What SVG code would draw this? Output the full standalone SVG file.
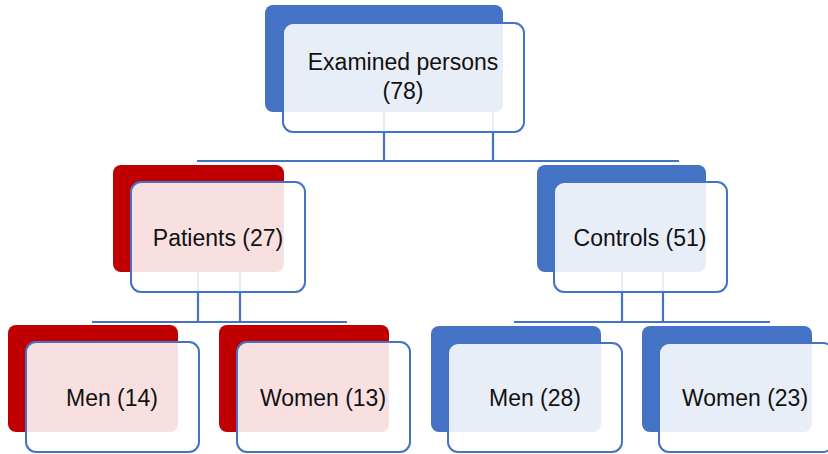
<svg xmlns="http://www.w3.org/2000/svg" width="828" height="454" viewBox="0 0 828 454">
<style>
.conn{stroke:#4472C4;stroke-width:2.2;fill:none}
.bb{fill:#4472C4}
.br{fill:#C00000}
.fr{fill:#ffffff;fill-opacity:0.88;stroke:#4472C4;stroke-width:2}
.t{font-family:"Liberation Sans",Arial,sans-serif;font-size:23px;fill:#111;text-anchor:middle}
</style>
<rect width="828" height="454" fill="#ffffff"/>
<g id="connectors">
<path class="conn" d="M384,100V161M493,100V161M197,161H679"/>
<path class="conn" d="M198,260V322M240,260V322M92,322H347"/>
<path class="conn" d="M622,260V322M663,260V322M514,322H770"/>
</g>
<g id="examined">
<rect class="bb" x="265" y="5" width="238" height="107" rx="8"/>
<rect class="fr" x="283" y="23" width="241" height="109" rx="10"/>
<text class="t" x="403" y="70">Examined persons</text>
<text class="t" x="403" y="99">(78)</text>
</g>
<g id="patients">
<rect class="br" x="113" y="165" width="171" height="107" rx="8"/>
<rect class="fr" x="131" y="182" width="174" height="110" rx="10"/>
<text class="t" x="218" y="246">Patients (27)</text>
</g>
<g id="controls">
<rect class="bb" x="537" y="165" width="169" height="107" rx="8"/>
<rect class="fr" x="554" y="182" width="173" height="110" rx="10"/>
<text class="t" x="640" y="246">Controls (51)</text>
</g>
<g id="patients-men">
<rect class="br" x="8" y="325" width="170" height="107" rx="8"/>
<rect class="fr" x="26" y="342" width="173" height="110" rx="10"/>
<text class="t" x="112" y="406">Men (14)</text>
</g>
<g id="patients-women">
<rect class="br" x="219" y="325" width="170" height="107" rx="8"/>
<rect class="fr" x="237" y="342" width="173" height="110" rx="10"/>
<text class="t" x="323" y="406">Women (13)</text>
</g>
<g id="controls-men">
<rect class="bb" x="431" y="326" width="170" height="106" rx="8"/>
<rect class="fr" x="448" y="343" width="174" height="109" rx="10"/>
<text class="t" x="535" y="406">Men (28)</text>
</g>
<g id="controls-women">
<rect class="bb" x="642" y="326" width="170" height="106" rx="8"/>
<rect class="fr" x="659" y="343" width="174" height="109" rx="10"/>
<text class="t" x="745" y="406">Women (23)</text>
</g>
</svg>
